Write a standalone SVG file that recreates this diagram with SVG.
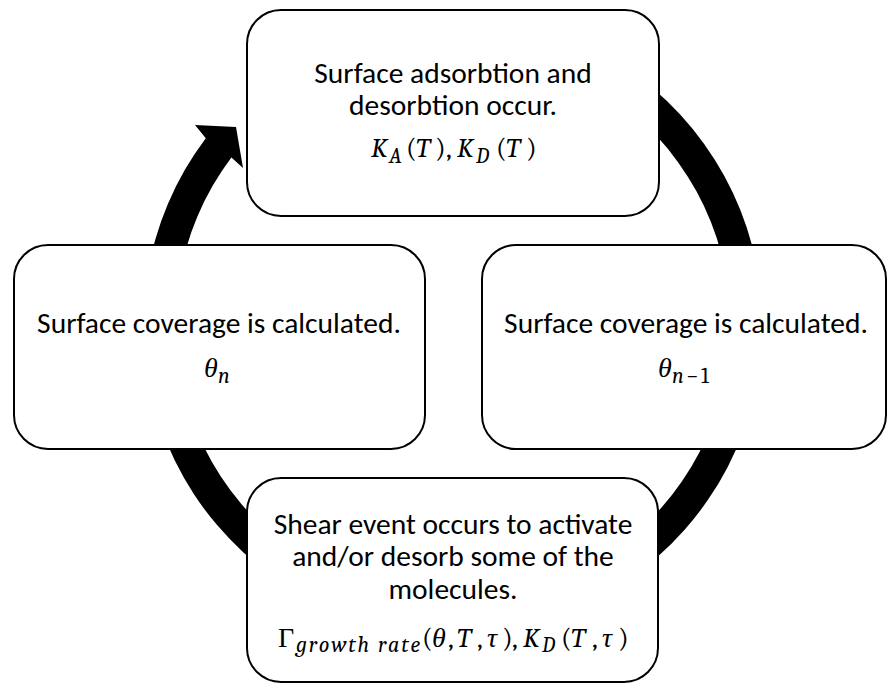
<svg xmlns="http://www.w3.org/2000/svg" width="887" height="684" viewBox="0 0 887 684">
  <style>
    .box { fill: #ffffff; stroke: #000000; stroke-width: 2; }
    .t { font-family: Calibri, Carlito, Lato, "Liberation Sans", sans-serif; font-size: 29.5px; fill: #000000; text-anchor: middle; }
    .m { font-family: "Cambria Math", Cambria, "Liberation Serif", serif; font-size: 28px; font-style: italic; fill: #000000; }
    .sb { font-size: 22px; }
    .up { font-style: normal; }
    .ring { fill: #000000; stroke: none; }
  </style>

  <!-- cycle arrow: thick ring running clockwise, head pointing into the top step -->
  <g id="connectors">
    <path class="ring" d="M 298.25 56.5 A 309.5 309.5 0 1 1 205.8 138.2 L 195 125 L 236 127 L 243 168 L 231.4 157.5 A 277.5 277.5 0 1 0 314.25 84.2 Z"/>
  </g>

  <g id="node-adsorption">
    <rect class="box" x="247" y="10" width="412" height="206" rx="34" ry="34"/>
    <text class="t"><tspan x="453" y="82.5">Surface adsorbtion and</tspan><tspan x="453" y="115">desorbtion occur.</tspan></text>
    <text class="m">
      <tspan x="371" y="157">K</tspan><tspan class="sb" x="389" y="163">A</tspan><tspan class="up" x="406" y="157">(</tspan><tspan x="416" y="157">T</tspan><tspan class="up" x="435" y="157">)</tspan><tspan class="up" x="446" y="157">,</tspan><tspan x="457" y="157">K</tspan><tspan class="sb" x="476" y="163">D</tspan><tspan class="up" x="496" y="157">(</tspan><tspan x="506" y="157">T</tspan><tspan class="up" x="526" y="157">)</tspan>
    </text>
  </g>

  <g id="node-coverage-prev">
    <rect class="box" x="482" y="245" width="404" height="204" rx="34" ry="34"/>
    <text class="t" x="686" y="332.5">Surface coverage is calculated.</text>
    <text class="m">
      <tspan x="658" y="377">θ</tspan><tspan class="sb" x="672" y="383">n</tspan><tspan class="sb up" x="686" y="383">−</tspan><tspan class="sb up" x="701" y="383">1</tspan>
    </text>
  </g>

  <g id="node-shear">
    <rect class="box" x="247" y="478" width="411" height="204" rx="34" ry="34"/>
    <text class="t"><tspan x="453" y="534">Shear event occurs to activate</tspan><tspan x="453" y="566">and/or desorb some of the</tspan><tspan x="453" y="598.5">molecules.</tspan></text>
    <text class="m">
      <tspan class="up" x="278" y="646.5">Γ</tspan><tspan class="sb" x="296" y="652" textLength="124" lengthAdjust="spacing">growth rate</tspan><tspan class="up" x="422" y="646.5">(</tspan><tspan x="432" y="646.5">θ</tspan><tspan class="up" x="448" y="646.5">,</tspan><tspan x="457" y="646.5">T</tspan><tspan class="up" x="477" y="646.5">,</tspan><tspan x="487" y="646.5">τ</tspan><tspan class="up" x="502" y="646.5">)</tspan><tspan class="up" x="512" y="646.5">,</tspan><tspan x="523" y="646.5">K</tspan><tspan class="sb" x="542" y="652">D</tspan><tspan class="up" x="561" y="646.5">(</tspan><tspan x="571" y="646.5">T</tspan><tspan class="up" x="592" y="646.5">,</tspan><tspan x="602" y="646.5">τ</tspan><tspan class="up" x="618" y="646.5">)</tspan>
    </text>
  </g>

  <g id="node-coverage">
    <rect class="box" x="14" y="245" width="411" height="204" rx="34" ry="34"/>
    <text class="t" x="219" y="332.5">Surface coverage is calculated.</text>
    <text class="m">
      <tspan x="204" y="377">θ</tspan><tspan class="sb" x="218" y="383">n</tspan>
    </text>
  </g>
</svg>
